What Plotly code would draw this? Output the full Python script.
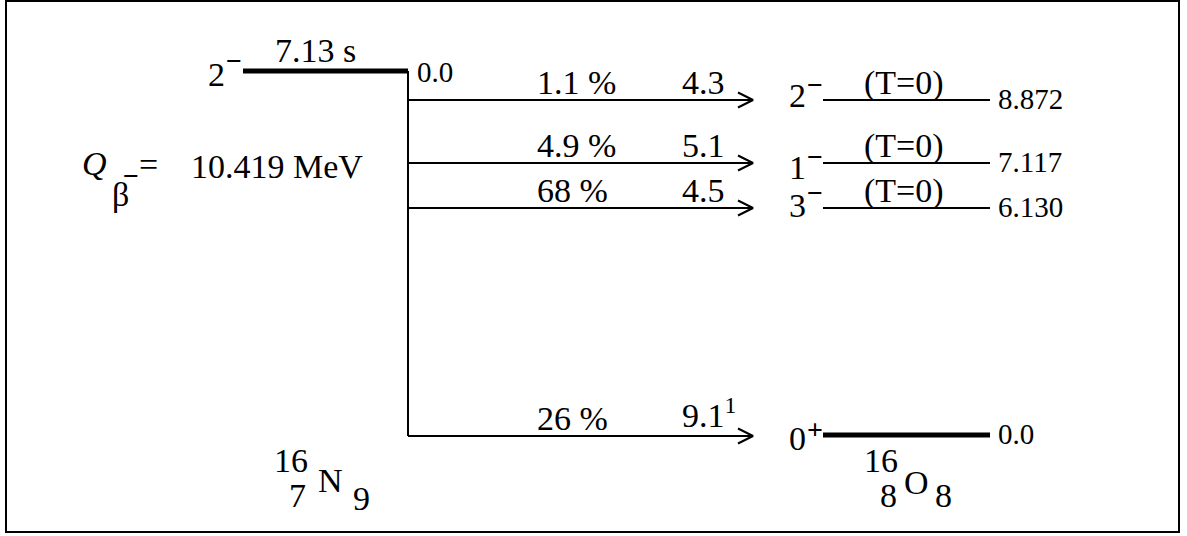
import plotly.graph_objects as go

# ---------------- data ----------------
parent_spin = ("2", "−")
parent_halflife = "7.13 s"
parent_energy = "0.0"
q_value = "10.419 MeV"

daughter_energies = ["8.872", "7.117", "6.130", "0.0"]
daughter_spin_values = ["2", "1", "3", "0"]
daughter_parities = ["−", "−", "−", "+"]
daughter_isospin = ["(T=0)", "(T=0)", "(T=0)", ""]
branching = ["1.1 %", "4.9 %", "68 %", "26 %"]
log_ft = ["4.3", "5.1", "4.5", "9.1"]
log_ft_note = ["", "", "", "1"]

# ---------------- schematic layout (pixel-like diagram units) ----------------
W, H = 1187, 536
level_y = [100, 163, 208, 435]     # drawing heights of daughter levels
parent_y = 71
x_parent = (243, 408)
x_arrow_end = 753
x_daughter = (823, 990)
head_len, head_half = 15, 7.5
spin_dy = [-3, 6, -1, 5]
parity_dy = [-14, -5, -14, -4]

FONT = "Liberation Serif"
BIG = 34
SMALL = 29
SIGN = 28

fig = go.Figure()

def line(xs, ys, width):
    fig.add_trace(go.Scatter(x=list(xs), y=list(ys), mode="lines",
                             line=dict(color="black", width=width),
                             hoverinfo="skip", showlegend=False))

def text(x, y, s, size=BIG, xanchor="center", italic=False, bold=False):
    fig.add_annotation(x=x, y=y - 2, xref="x", yref="y", text=s, showarrow=False,
                       xanchor=xanchor, yanchor="middle",
                       font=dict(family=FONT, size=size, color="black",
                                 style="italic" if italic else "normal",
                                 weight="bold" if bold else "normal"))

# parent level
line(x_parent, (parent_y, parent_y), 5)
# vertical decay line
line((x_parent[1], x_parent[1]), (parent_y, level_y[-1] + 1), 2)

text(227, parent_y + 5, parent_spin[0], xanchor="right")
text(234, parent_y - 9, parent_spin[1], size=SIGN, bold=True)
text(315, parent_y - 19, parent_halflife)
text(415, parent_y + 3, parent_energy, size=SMALL, xanchor="left")

# Q value
text(80, 165, "Q", xanchor="left", italic=True)
text(110, 196, "β", xanchor="left")
text(131, 177, "−", size=SIGN, bold=True)
text(137, 166, "=", xanchor="left")
text(189, 168, q_value, xanchor="left")

for i, yv in enumerate(level_y):
    ya = yv + (1 if i == len(level_y) - 1 else 0)
    # decay arrow
    line((x_parent[1], x_arrow_end), (ya, ya), 2)
    line((x_arrow_end - head_len, x_arrow_end, x_arrow_end - head_len),
         (ya - head_half, ya, ya + head_half), 2)
    text(535, ya - 16, branching[i], xanchor="left")
    lab = log_ft[i]
    if log_ft_note[i]:
        lab = lab + "<sup>" + log_ft_note[i] + "</sup>"
    text(680, ya - 16 - (5 if log_ft_note[i] else 0), lab, xanchor="left")
    # daughter level
    w = 5 if daughter_energies[i] == "0.0" else 2
    line(x_daughter, (yv, yv), w)
    text(808, yv + spin_dy[i], daughter_spin_values[i], xanchor="right")
    text(815, yv + parity_dy[i], daughter_parities[i], size=SIGN, bold=True)
    if daughter_isospin[i]:
        text(904, yv - 15, daughter_isospin[i])
    text(996, yv + 1, daughter_energies[i], size=SMALL, xanchor="left")

# nuclide labels
text(291, 462, "16")
text(297, 497, "7")
text(330, 482, "N")
text(361, 500, "9")

text(881, 462, "16")
text(888, 497, "8")
text(916, 484, "O")
text(943, 497, "8")

fig.add_shape(type="rect", xref="x", yref="y", x0=6, y0=1, x1=1179, y1=532,
              line=dict(color="black", width=2))

fig.update_xaxes(range=[0, W], visible=False, fixedrange=True)
fig.update_yaxes(range=[H, 0], visible=False, fixedrange=True)
fig.update_layout(width=W, height=H, margin=dict(l=0, r=0, t=0, b=0),
                  plot_bgcolor="white", paper_bgcolor="white")

fig.write_html("out.html", config={"displayModeBar": False},
               post_script="document.body.style.margin='0';document.body.style.overflow='hidden';")
